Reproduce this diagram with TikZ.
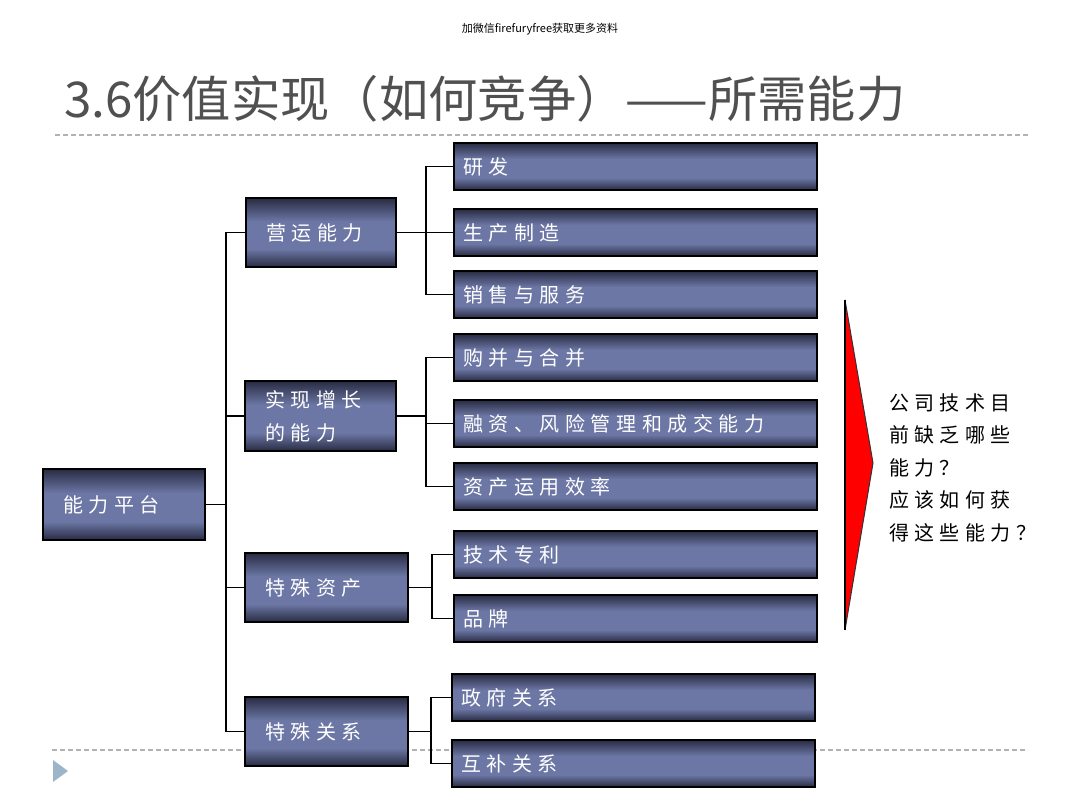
\documentclass[tikz,border=0pt]{standalone}
\usepackage{fontspec}
\setmainfont{Noto Sans CJK SC}
\newfontfamily\boxfont[LetterSpace=28]{Noto Sans CJK SC}
\newfontfamily\qfont[LetterSpace=27]{Noto Sans CJK SC}
\newfontfamily\plainfont{Noto Sans CJK SC}
\definecolor{boxdark}{RGB}{40,43,66}
\definecolor{boxlight}{RGB}{108,119,165}
\definecolor{titlegray}{RGB}{80,80,80}
\definecolor{dashgray}{RGB}{178,178,178}
\definecolor{tribl}{RGB}{157,181,200}
\pgfdeclareverticalshading{boxshade}{100bp}{color(0bp)=(boxdark); color(25bp)=(boxdark); color(38bp)=(boxlight); color(58bp)=(boxlight); color(75bp)=(boxdark); color(100bp)=(boxdark)}
\begin{document}
\begin{tikzpicture}[x=1pt,y=-1pt,
  box/.style={draw=black, line width=2, shading=boxshade, inner ysep=0, text=white,
    font=\boxfont\fontsize{20}{33}\selectfont, align=left, anchor=north west},
  leaf/.style={box, inner xsep=9, text width=345, minimum height=47},
  midbox/.style={box, inner xsep=20, minimum height=70},
  conn/.style={draw=black, line width=1.5},
  sep/.style={draw=dashgray, line width=1.6, dash pattern=on 5 off 3}]
\useasboundingbox (0,0) rectangle (1080,810);

% watermark and title
\node[font=\plainfont\fontsize{11}{13}\selectfont] (wm) at (540,29) {加微信firefuryfree获取更多资料};
\node[anchor=base west, inner sep=0, text=titlegray, font=\plainfont\fontsize{49.3}{56}\selectfont] (title) at (64,118) {3.6价值实现（如何竞争）——所需能力};

% separators
\coordinate (s1a) at (55,135); \coordinate (s1b) at (1028,135);
\coordinate (s2a) at (52,750); \coordinate (s2b) at (1028,750);
\draw[sep] (s1a) -- (s1b);
\draw[sep] (s2a) -- (s2b);
\coordinate (t1) at (53,760); \coordinate (t2) at (53,782); \coordinate (t3) at (68,771);
\fill[tribl] (t1) -- (t3) -- (t2) -- cycle;

% root
\node[midbox, text width=122, minimum height=71] (r) at (42,468) {能力平台};
% middle level
\node[midbox, text width=110, minimum height=69] (a) at (245,197) {营运能力};
\node[midbox, text width=111] (b) at (244,380) {实现增长\\的能力};
\node[midbox, text width=123, minimum height=69] (c) at (244,552) {特殊资产};
\node[midbox, text width=123, minimum height=69] (d) at (244,696) {特殊关系};
% leaves
\node[leaf] (a1) at (453,142) {研发};
\node[leaf] (a2) at (453,208) {生产制造};
\node[leaf] (a3) at (453,270) {销售与服务};
\node[leaf] (b1) at (453,333) {购并与合并};
\node[leaf] (b2) at (453,399) {融资、风险管理和成交能力};
\node[leaf] (b3) at (453,462) {资产运用效率};
\node[leaf] (c1) at (453,530) {技术专利};
\node[leaf] (c2) at (453,594) {品牌};
\node[leaf] (d1) at (451,673) {政府关系};
\node[leaf] (d2) at (451,739) {互补关系};

% connectors: root
\coordinate (jr) at ([xshift=20]r.east);
\draw[conn] (r.east) -- (jr);
\draw[conn] (jr) |- (a.west);
\draw[conn] (jr) |- (b.west);
\draw[conn] (jr) |- (c.west);
\draw[conn] (jr) |- (d.west);
% connectors: a
\coordinate (ja) at ([xshift=29]a.east);
\draw[conn] (a.east) -- (ja);
\draw[conn] (ja) |- (a1.west);
\draw[conn] (ja) |- (a2.west);
\draw[conn] (ja) |- (a3.west);
% connectors: b
\coordinate (jb) at ([xshift=29]b.east);
\draw[conn] (b.east) -- (jb);
\draw[conn] (jb) |- (b1.west);
\draw[conn] (jb) |- (b2.west);
\draw[conn] (jb) |- (b3.west);
% connectors: c
\coordinate (jc) at ([xshift=23]c.east);
\draw[conn] (c.east) -- (jc);
\draw[conn] (jc) |- (c1.west);
\draw[conn] (jc) |- (c2.west);
% connectors: d
\coordinate (jd) at ([xshift=22]d.east);
\draw[conn] (d.east) -- (jd);
\draw[conn] (jd) |- (d1.west);
\draw[conn] (jd) |- (d2.west);

% red arrow
\coordinate (ra) at (845,300); \coordinate (rb) at (873,463); \coordinate (rc) at (845,630);
\filldraw[fill=red, draw=black!80, line width=1] (ra) -- (rb) -- (rc) -- cycle;
\draw[black, line width=1.5] (ra) -- (rc);

% question text
\node[anchor=north west, inner sep=0, align=left, font=\qfont\fontsize{20}{32.5}\selectfont] (q) at (889,393)
  {公司技术目\\前缺乏哪些\\能力？\\应该如何获\\得这些能力？};
\end{tikzpicture}
\end{document}
